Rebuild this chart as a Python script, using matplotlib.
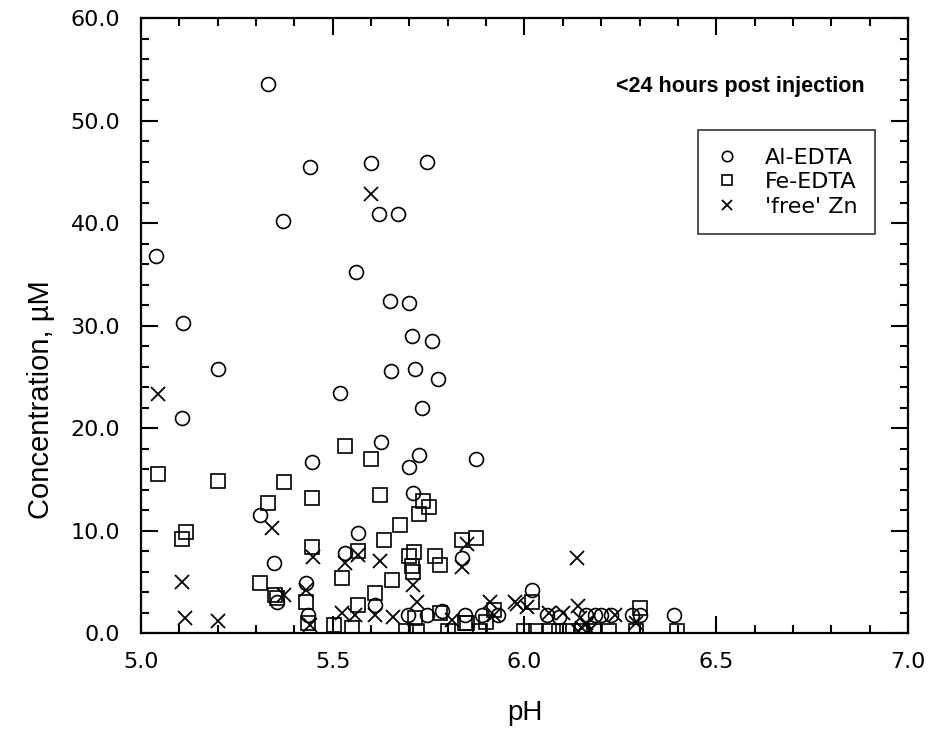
import matplotlib
matplotlib.use('Agg')
from matplotlib import pyplot as plt
from matplotlib.ticker import MultipleLocator, FormatStrFormatter

plt.rcParams['font.family'] = ['Liberation Sans', 'DejaVu Sans']

# Al-EDTA (circles)
al_ph = [5.04, 5.11, 5.20, 5.107, 5.33, 5.37, 5.44, 5.60, 5.745, 5.62, 5.67, 5.56,
         5.65, 5.70, 5.707, 5.76, 5.652, 5.714, 5.774, 5.733, 5.52, 5.626, 5.725,
         5.70, 5.873, 5.446, 5.71, 5.31, 5.566, 5.347, 5.532, 5.43, 5.61, 5.435,
         5.355, 5.837, 6.02, 5.697, 5.745, 5.785, 5.845, 5.89, 5.93, 6.06, 6.09,
         6.16, 6.185, 6.20, 6.225, 6.28, 6.30, 6.39]
al_conc = [36.8, 30.2, 25.8, 21.0, 53.6, 40.2, 45.5, 45.9, 46.0, 40.9, 40.9, 35.2,
           32.4, 32.2, 29.0, 28.5, 25.6, 25.8, 24.8, 22.0, 23.4, 18.6, 17.4,
           16.2, 17.0, 16.7, 13.7, 11.5, 9.8, 6.8, 7.8, 4.9, 2.7, 1.8,
           3.0, 7.3, 4.2, 1.8, 1.8, 2.1, 1.8, 1.8, 1.8, 1.8, 1.6,
           1.8, 1.8, 1.8, 1.8, 1.8, 1.8, 1.8]

# Fe-EDTA (squares)
fe_ph = [5.045, 5.20, 5.373, 5.532, 5.60, 5.446, 5.623, 5.33, 5.117, 5.107, 5.446,
         5.566, 5.633, 5.31, 5.35, 5.355, 5.43, 5.524, 5.61, 5.566, 5.55, 5.503,
         5.435, 5.735, 5.75, 5.725, 5.675, 5.873, 5.837, 5.712, 5.70, 5.766, 5.78,
         5.707, 5.71, 5.655, 6.02, 5.92, 6.30, 5.69, 5.72, 5.80, 5.845, 5.885,
         5.90, 6.00, 6.03, 6.065, 6.09, 6.11, 6.15, 6.18, 6.22, 6.29, 6.397,
         5.715, 5.78, 5.85]
fe_conc = [15.5, 14.8, 14.7, 18.2, 17.0, 13.2, 13.5, 12.7, 9.9, 9.2, 8.4,
           8.0, 9.1, 4.9, 3.7, 3.4, 3.0, 5.4, 3.9, 2.7, 0.5, 0.8,
           1.0, 12.9, 12.3, 11.6, 10.5, 9.3, 9.1, 7.9, 7.5, 7.5, 6.6,
           6.5, 6.0, 5.2, 3.0, 2.25, 2.4, 0.2, 0.2, 0.2, 1.0, 0.2,
           1.1, 0.2, 0.2, 0.2, 0.2, 0.2, 0.2, 0.2, 0.2, 0.2, 0.2,
           1.5, 2.0, 1.0]

# 'free' Zn (crosses)
zn_ph = [5.045, 5.60, 5.342, 5.449, 5.107, 5.115, 5.20, 5.373, 5.532, 5.566, 5.623,
         5.43, 5.44, 5.524, 5.558, 5.61, 5.657, 5.71, 5.72, 5.85, 5.837, 5.91,
         5.975, 6.007, 6.137, 6.065, 6.10, 6.14, 6.145, 6.15, 6.14, 6.235, 6.29,
         5.81, 5.92, 5.98, 6.17, 6.16]
zn_conc = [23.3, 42.8, 10.2, 7.4, 5.0, 1.5, 1.2, 3.7, 6.8, 7.6, 7.0,
           4.2, 0.8, 2.0, 1.8, 1.8, 1.6, 4.7, 3.0, 8.7, 6.4, 3.0,
           3.0, 2.5, 7.3, 2.0, 2.0, 2.6, 1.5, 0.5, 0.2, 1.8, 1.0,
           1.3, 1.8, 2.8, 0.3, 1.0]

fig = plt.figure(figsize=(9.32, 7.42), dpi=100)
ax = fig.add_axes([0.1513, 0.1469, 0.8229, 0.8288])

ax.plot(al_ph, al_conc, 'o', mfc='none', mec='black', ms=10, mew=1.2, label='Al-EDTA')
ax.plot(fe_ph, fe_conc, 's', mfc='none', mec='black', ms=9.5, mew=1.2, label='Fe-EDTA')
ax.plot(zn_ph, zn_conc, 'x', color='black', ms=10, mew=1.3, label="'free' Zn")

ax.set_xlim(5.0, 7.0)
ax.set_ylim(0.0, 60.0)
ax.xaxis.set_major_locator(MultipleLocator(0.5))
ax.xaxis.set_minor_locator(MultipleLocator(0.1))
ax.yaxis.set_major_locator(MultipleLocator(10))
ax.yaxis.set_minor_locator(MultipleLocator(2))
ax.xaxis.set_major_formatter(FormatStrFormatter('%.1f'))
ax.yaxis.set_major_formatter(FormatStrFormatter('%.1f'))
ax.tick_params(which='both', direction='in', top=True, right=True, width=1.5,
               colors='black')
ax.tick_params(which='major', length=12)
ax.tick_params(which='minor', length=6)
ax.tick_params(axis='x', which='major', pad=14)
ax.tick_params(axis='y', which='major', pad=15)
for lbl in ax.get_xticklabels() + ax.get_yticklabels():
    lbl.set_fontfamily(['DejaVu Sans'])
    lbl.set_fontsize(16)
for s in ax.spines.values():
    s.set_linewidth(1.6)

ax.set_xlabel('pH', fontsize=20, labelpad=20,
              family=['Liberation Sans Narrow', 'Liberation Sans'])
ax.set_ylabel('Concentration, \u00b5M', fontsize=21,
              family=['Liberation Sans Narrow', 'Liberation Sans'])
ax.yaxis.set_label_coords(-0.112, 0.38)

ax.text(0.944, 0.888, '<24 hours post injection', transform=ax.transAxes,
        ha='right', va='center', fontsize=15.5, fontweight='bold')

leg = ax.legend(loc='upper right', bbox_to_anchor=(0.957, 0.818),
                prop={'family': ['DejaVu Sans'], 'size': 16},
                frameon=True, fancybox=False, edgecolor='black', markerscale=0.75,
                handlelength=1.0, handletextpad=1.2, labelspacing=0.2,
                borderpad=0.8, borderaxespad=0)
leg.get_frame().set_linewidth(1.2)

fig.savefig('out.png', dpi=100)
